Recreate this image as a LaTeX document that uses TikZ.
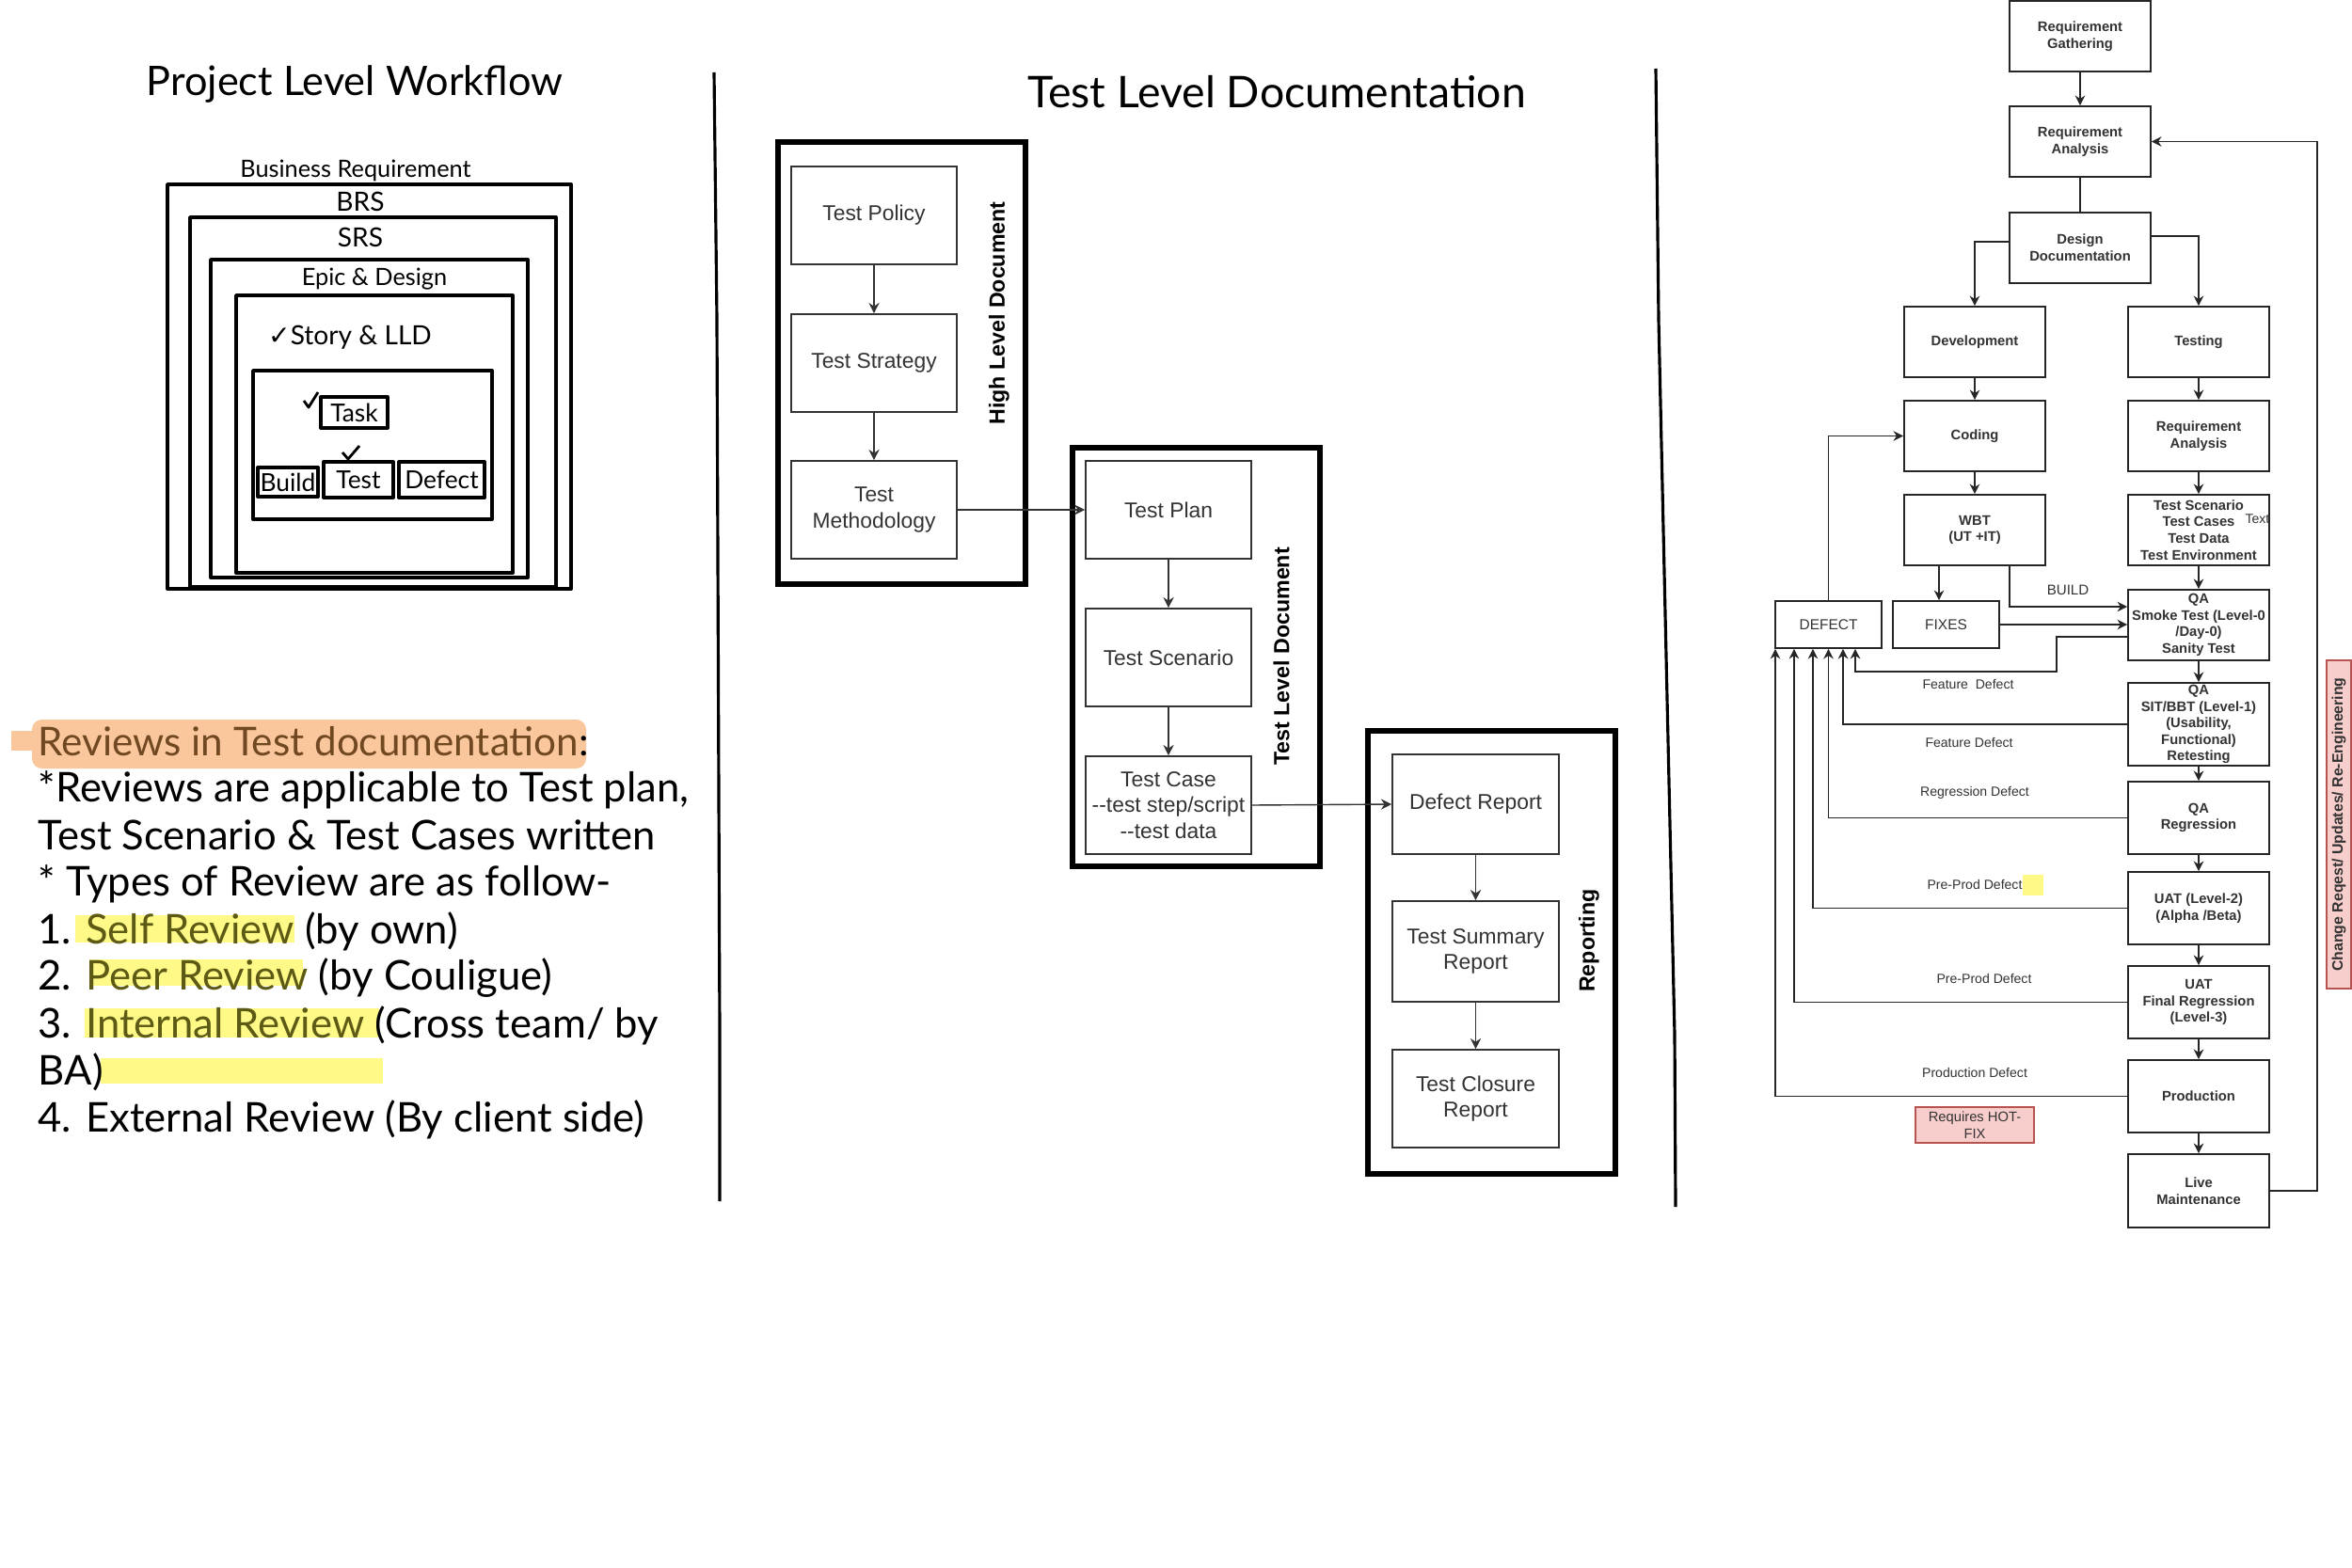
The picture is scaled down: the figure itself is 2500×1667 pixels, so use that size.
\documentclass[tikz,border=0pt]{standalone}
\usepackage{fontspec}
\setmainfont{Liberation Sans}
\newfontfamily\hand{Lato}
\newfontfamily\symb{DejaVu Sans}
\usetikzlibrary{arrows.meta}
\definecolor{hlorange}{RGB}{250,198,155}
\definecolor{hlyellow}{RGB}{255,250,135}
\definecolor{hlbrown}{RGB}{112,72,34}
\definecolor{hlolive}{RGB}{92,90,20}
\definecolor{crfill}{RGB}{248,206,204}
\definecolor{crline}{RGB}{184,84,80}
\definecolor{boxtxt}{RGB}{51,51,51}
\tikzset{
  sketch/.style={line width=1.1pt, line join=round},
  handtxt/.style={font=\hand\fontsize{8}{9.6}\selectfont, inner sep=0pt},
  review/.style={font=\hand\fontsize{12.4}{14}\selectfont, anchor=west, inner sep=0pt},
  docbox/.style={draw=boxtxt, line width=0.45pt, text=boxtxt, align=center,
    font=\fontsize{6.5}{7.8}\selectfont, minimum width=1.76cm, minimum height=1.04cm, inner sep=1pt},
  grp/.style={draw, line width=1.5pt},
  grplabel/.style={rotate=90, font=\bfseries\fontsize{6.6}{8}\selectfont},
  docarrow/.style={-{Stealth[length=3.2pt,width=3.2pt]}, line width=0.4pt, draw=boxtxt},
  sdlc/.style={draw=black!85, line width=0.5pt, align=center, text=boxtxt,
    font=\bfseries\fontsize{4.2}{5}\selectfont, minimum width=1.5cm, minimum height=0.75cm, inner sep=0pt},
  flow/.style={-{Stealth[length=3pt,width=3pt]}, line width=0.5pt, draw=black!85},
  defectlbl/.style={font=\fontsize{4}{4.8}\selectfont, text=boxtxt, inner sep=0pt},
}
\begin{document}
\begin{tikzpicture}[x=0.01cm, y=-0.01cm]
    \useasboundingbox[fill=white] (0,0) rectangle (2500,1667);
    % Traits de séparation
    \draw[line width=0.9pt, line join=round] (759,77) -- (762,340) -- (765,1100) -- (765,1277);
    \draw[line width=0.9pt, line join=round] (1760,73) -- (1763,340) -- (1780,1100) -- (1781,1283);

    % Workflow du projet (cadres emboîtés)
    \node[handtxt, font=\hand\fontsize{12.3}{15}\selectfont] (pltitle) at (377,90) {Project Level Workflow};
    \node[handtxt, font=\hand\fontsize{7.2}{9}\selectfont] (busreq) at (378,181) {Business Requirement};
    \draw[sketch] (178,196) rectangle (607,626);
    \draw[sketch] (202,231) rectangle (591,624);
    \draw[sketch] (224,276) rectangle (561,614);
    \draw[sketch] (251,314) rectangle (545,609);
    \draw[sketch] (269,394) rectangle (523,552);
    \node[handtxt] (brs) at (383,214) {BRS};
    \node[handtxt] (srs) at (383,252) {SRS};
    \node[handtxt, font=\hand\fontsize{7.2}{9}\selectfont] (epic) at (398,297) {Epic \& Design};
    \node[handtxt] (story) at (372,359) {{\symb ✓}Story \& LLD};
    \node[handtxt, font=\hand\fontsize{7.5}{9}\selectfont, draw, sketch, minimum width=0.71cm, minimum height=0.33cm] (task) at (376.5,438.5) {Task};
    \node[handtxt, font=\hand\fontsize{7.5}{9}\selectfont, draw, sketch, minimum width=0.64cm, minimum height=0.31cm] (build) at (306,512.5) {Build};
    \node[handtxt, font=\hand\fontsize{7.5}{9}\selectfont, draw, sketch, minimum width=0.74cm, minimum height=0.38cm] (test) at (381,510) {Test};
    \node[handtxt, font=\hand\fontsize{7.5}{9}\selectfont, draw, sketch, minimum width=0.91cm, minimum height=0.38cm] (defect) at (469.5,510) {Defect};
    % Coches
    \draw[line width=0.8pt, line join=round] (323,426) -- (328,433) -- (338,417);
    \draw[line width=0.8pt, line join=round] (364,481) -- (370,488) -- (382,474);

    % Surlignages
    \fill[hlorange] (12,777) rectangle (34,798);
    \fill[hlorange, rounded corners=3pt] (34,765) rectangle (623,817);
    \fill[hlyellow] (80,973) rectangle (313,1002);
    \fill[hlyellow] (95,1020) rectangle (322,1048);
    \fill[hlyellow] (90,1072) rectangle (403,1103);
    \fill[hlyellow] (107,1125) rectangle (407,1152);
    % Revues
    \node[review, font=\hand\fontsize{12}{14}\selectfont] (rv0) at (40,788) {{\color{hlbrown}Reviews in Test documentation}:};
    \node[review] (rv1) at (40,840) {*Reviews are applicable to Test plan,};
    \node[review] (rv2) at (40,888) {Test Scenario \& Test Cases written};
    \node[review] (rv3) at (40,940) {* Types of Review are as follow-};
    \node[review] (rv4) at (40,990) {1. {\color{hlolive}Self Review} (by own)};
    \node[review] (rv5) at (40,1040) {2. {\color{hlolive}Peer Review} (by Couligue)};
    \node[review] (rv6) at (40,1090) {3. {\color{hlolive}Internal Review} (Cross team/ by};
    \node[review] (rv7) at (40,1140) {BA)};
    \node[review] (rv8) at (40,1190) {4. External Review (By client side)};

    % Documentation de test
    \node[handtxt, font=\hand\fontsize{13.2}{15}\selectfont] (tltitle) at (1357,98) {Test Level Documentation};
    \draw[grp] (827,151) rectangle (1090,621);
    \draw[grp] (1140,476) rectangle (1403,921);
    \draw[grp] (1454,777) rectangle (1717,1248);
    \node[docbox] (tpol) at (929,229) {Test Policy};
    \node[docbox] (tstr) at (929,386) {Test Strategy};
    \node[docbox] (tmeth) at (929,542) {Test\\Methodology};
    \node[docbox] (tplan) at (1242,542) {Test Plan};
    \node[docbox] (tscen) at (1242,699) {Test Scenario};
    \node[docbox] (tcase) at (1242,856) {Test Case\\{-}{-}test step/script\\{-}{-}test data};
    \node[docbox, minimum width=1.77cm, minimum height=1.06cm] (drep) at (1568.5,855) {Defect Report};
    \node[docbox, minimum width=1.77cm, minimum height=1.07cm] (tsum) at (1568.5,1011.5) {Test Summary\\Report};
    \node[docbox, minimum width=1.77cm] (tclos) at (1568.5,1168) {Test Closure\\Report};
    \node[grplabel] (hld) at (1062,333) {High Level Document};
    \node[grplabel] (tld) at (1362,698) {Test Level Document};
    \node[grplabel] (rep) at (1689,1000) {Reporting};
    \draw[docarrow] (tpol) -- (tstr);
    \draw[docarrow] (tstr) -- (tmeth);
    \draw[docarrow] (tmeth.east) -- (tplan.west);
    \draw[docarrow] (tplan) -- (tscen);
    \draw[docarrow] (tscen) -- (tcase);
    \draw[docarrow] (tcase.east) -- (drep.west);
    \draw[docarrow] (drep) -- (tsum);
    \draw[docarrow] (tsum) -- (tclos);

    % Cycle de vie (SDLC / STLC)
    \node[sdlc] (rg) at (2211,38.5) {Requirement\\Gathering};
    \node[sdlc] (ra) at (2211,150.5) {Requirement\\Analysis};
    \node[sdlc] (dd) at (2211,263.5) {Design\\Documentation};
    \node[sdlc] (dev) at (2099,363.5) {Development};
    \node[sdlc] (tst) at (2337,363.5) {Testing};
    \node[sdlc] (cod) at (2099,463.5) {Coding};
    \node[sdlc] (ra2) at (2337,463.5) {Requirement\\Analysis};
    \node[sdlc] (wbt) at (2099,563.5) {WBT\\(UT +IT)};
    \node[sdlc] (ts) at (2337,563.5) {Test Scenario\\Test Cases\\Test Data\\Test Environment};
    \node[sdlc] (smoke) at (2337,664.5) {QA\\Smoke Test (Level-0\\/Day-0)\\Sanity Test};
    \node[sdlc, minimum width=1.13cm, minimum height=0.5cm, font=\fontsize{4.4}{5}\selectfont] (dft) at (1943.5,664) {DEFECT};
    \node[sdlc, minimum width=1.13cm, minimum height=0.5cm, font=\fontsize{4.4}{5}\selectfont] (fix) at (2068.5,664) {FIXES};
    \node[sdlc, minimum height=0.88cm] (sit) at (2337,770) {QA\\SIT/BBT (Level-1)\\(Usability,\\Functional)\\Retesting};
    \node[sdlc, minimum height=0.77cm] (reg) at (2337,869.5) {QA\\Regression};
    \node[sdlc, minimum height=0.77cm] (uat2) at (2337,965.5) {UAT (Level-2)\\(Alpha /Beta)};
    \node[sdlc, minimum height=0.77cm] (uat3) at (2337,1065.5) {UAT\\Final Regression\\(Level-3)};
    \node[sdlc, minimum height=0.77cm] (prod) at (2337,1165.5) {Production};
    \node[sdlc, minimum height=0.78cm] (live) at (2337,1266) {Live\\Maintenance};
    \node[sdlc, draw=crline, fill=crfill, font=\fontsize{4.2}{5}\selectfont, minimum width=1.26cm, minimum height=0.38cm] (hotfix) at (2099,1196) {Requires HOT-\\FIX};
    \node[sdlc, rotate=90, draw=crline, fill=crfill, font=\bfseries\fontsize{4.5}{5}\selectfont, minimum width=3.49cm, minimum height=0.26cm] (cr) at (2486,876.5) {Change Reqest/ Updates/ Re-Engineering};
    \node[defectlbl, anchor=east] (txt) at (2413,552) {Text};
    \node[defectlbl, font=\fontsize{4.3}{5}\selectfont] (bld) at (2198,627) {BUILD};
    \fill[hlyellow] (2150,930) rectangle (2172,952);
    \node[defectlbl] (l1) at (2092,727) {Feature\ \ Defect};
    \node[defectlbl] (l2) at (2093,789) {Feature Defect};
    \node[defectlbl] (l3) at (2099,843) {Regression Defect};
    \node[defectlbl] (l4) at (2099,940) {Pre-Prod Defect};
    \node[defectlbl] (l5) at (2109,1040) {Pre-Prod Defect};
    \node[defectlbl] (l6) at (2099,1140) {Production Defect};
    % Flèches
    \draw[flow] (rg) -- (ra);
    \draw[line width=0.5pt, black!85] (ra) -- (dd);
    \draw[flow] ([yshift=0.065cm]dd.west) -| (dev.north);
    \draw[flow] ([yshift=0.125cm]dd.east) -| (tst.north);
    \draw[flow] (dev) -- (cod);
    \draw[flow] (tst) -- (ra2);
    \draw[flow] (cod) -- (wbt);
    \draw[flow] (ra2) -- (ts);
    \draw[flow] (ts) -- (smoke);
    \draw[flow] (smoke) -- (sit);
    \draw[flow] (sit) -- (reg);
    \draw[flow] (reg) -- (uat2);
    \draw[flow] (uat2) -- (uat3);
    \draw[flow] (uat3) -- (prod);
    \draw[flow] (prod) -- (live);
    \draw[flow] ([xshift=-0.38cm]wbt.south) -- ([xshift=-0.38cm]wbt.south |- fix.north);
    \draw[flow] ([xshift=0.37cm]wbt.south) |- ([yshift=0.195cm]smoke.west);
    \draw[flow] (fix.east) -- (fix.east -| smoke.west);
    \draw[flow] ([yshift=-0.125cm]smoke.west) -| (2186,714) -| ([xshift=0.285cm]dft.south);
    \draw[flow] (sit.west) -| ([xshift=0.155cm]dft.south);
    \draw[flow] (reg.west) -| (dft.south);
    \draw[flow] (uat2.west) -| ([xshift=-0.165cm]dft.south);
    \draw[flow] (uat3.west) -| ([xshift=-0.365cm]dft.south);
    \draw[flow] (prod.west) -| ([xshift=-0.565cm]dft.south);
    \draw[flow] (dft.north) |- (cod.west);
    \draw[flow] (live.east) -- ++(50,0) |- (ra.east);
\end{tikzpicture}
\end{document}
